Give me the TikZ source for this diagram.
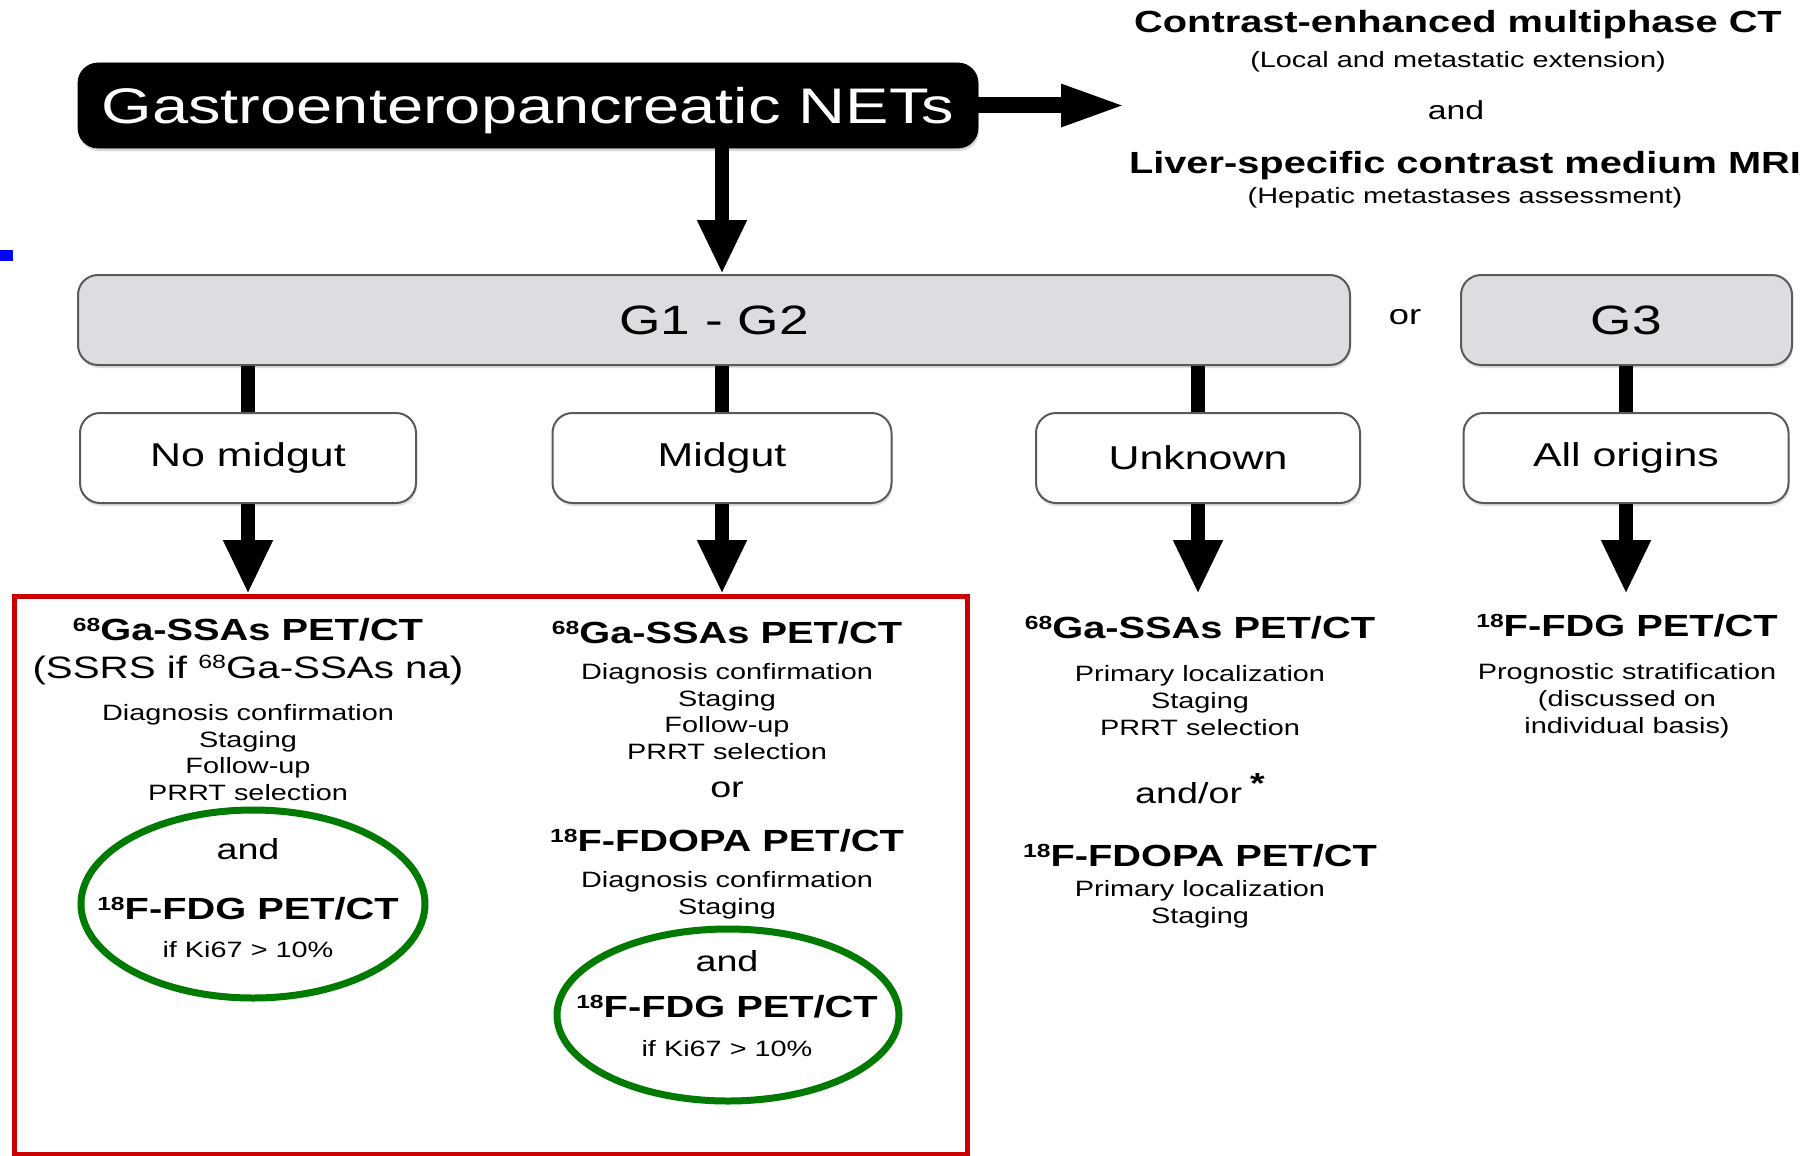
\documentclass[tikz,border=0pt]{standalone}
\usepackage{fontspec}
\setmainfont{Liberation Sans}[FakeStretch=1.3]
\usetikzlibrary{shapes,arrows.meta,shadows}

\definecolor{gradegray}{HTML}{DCDDE0}
\definecolor{boxline}{HTML}{5A5A5A}
\definecolor{framered}{HTML}{CC0000}
\definecolor{ringgreen}{HTML}{007A00}

% isotope mass number, small and flush with the cap height
\newcommand{\iso}[2]{\raisebox{0.3em}{\scalebox{0.62}{#1}}#2}

\tikzstyle{titlebox} = [draw=black, fill=black, text=white, rounded corners=10pt,
    minimum width=450pt, minimum height=42.5pt, text depth=0pt,
    font=\fontsize{25}{30}\selectfont,
    drop shadow={shadow xshift=0.5pt, shadow yshift=-1.5pt, opacity=.3}]
\tikzstyle{grade} = [draw=boxline, line width=1pt, fill=gradegray, rounded corners=10pt,
    minimum height=45pt, font=\fontsize{20.5}{24}\selectfont,
    drop shadow={shadow xshift=0.5pt, shadow yshift=-1.5pt, opacity=.25}]
\tikzstyle{origin} = [draw=boxline, line width=1pt, fill=white, rounded corners=10pt,
    minimum height=45pt, font=\fontsize{16.5}{20}\selectfont,
    drop shadow={shadow xshift=0.5pt, shadow yshift=-1.5pt, opacity=.25}]
\tikzstyle{head} = [font=\bfseries\fontsize{15.3}{18}\selectfont]
\tikzstyle{note} = [align=center, font=\fontsize{11.1}{13.4}\selectfont]
\tikzstyle{conj} = [font=\fontsize{14.5}{17}\selectfont]
\tikzstyle{link} = [line width=7pt]
\tikzstyle{pointer} = [line width=7pt, -{Triangle[length=27pt, width=23pt]}]
\tikzstyle{ring} = [draw=ringgreen, line width=3.5pt]

\begin{document}
\begin{tikzpicture}[x=0.5pt, y=-0.5pt]
\useasboundingbox (0,0) rectangle (1809,1156);

% small mark on the left edge
\fill[blue] (0,250) rectangle (13,261);

% entry box and the imaging for every case
\node[titlebox, name=title] at (528,105.5) {Gastroenteropancreatic NETs};
\node[head, name=ct] at (1458,25) {Contrast-enhanced multiphase CT};
\node[note, name=ctnote] at (1458,62) {(Local and metastatic extension)};
\node[conj, font=\fontsize{13}{16}\selectfont, name=ctand] at (1456,110) {and};
\node[head, name=mri] at (1465,166) {Liver-specific contrast medium MRI};
\node[note, name=mrinote] at (1465,198) {(Hepatic metastases assessment)};

% grading
\node[grade, name=g12, minimum width=636pt] at (714,320) {G1 - G2};
\node[grade, name=g3, minimum width=165.5pt] at (1626.5,320) {G3};
\node[name=or, font=\fontsize{14}{17}\selectfont] at (1405,317) {or};

% site of origin
\node[origin, name=nomid, minimum width=168pt] at (248,458) {No midgut};
\node[origin, name=midgut, minimum width=169.5pt] at (722,458) {Midgut};
\node[origin, name=unknown, minimum width=162pt] at (1198,458) {Unknown};
\node[origin, name=allorig, minimum width=162.5pt] at (1626,458) {All origins};

\coordinate (tip1) at (248,594);
\coordinate (tip2) at (722,594);
\coordinate (tip3) at (1198,594);
\coordinate (tip4) at (1626,594);

\draw[line width=8pt, -{Triangle[length=33pt, width=19pt]}] (title.east) -- (title.east -| ct.west);
\draw[pointer] (title.south -| midgut) -- (g12.north -| midgut);

\draw[link] (g12.south -| nomid) -- (nomid.north);
\draw[link] (g12.south -| midgut) -- (midgut.north);
\draw[link] (g12.south -| unknown) -- (unknown.north);
\draw[link] (g3.south -| allorig) -- (allorig.north);

\draw[pointer] (nomid.south) -- (tip1);
\draw[pointer] (midgut.south) -- (tip2);
\draw[pointer] (unknown.south) -- (tip3);
\draw[pointer] (allorig.south) -- (tip4);

% no midgut
\node[head, name=h1a] at (248,630) {\iso{68}{Ga}-SSAs PET/CT};
\node[name=s1, font=\fontsize{15.5}{18}\selectfont] at (248,670) {(SSRS if \iso{68}{Ga}-SSAs na)};
\node[note, name=l1] at (248,752.5) {Diagnosis confirmation\\Staging\\Follow-up\\PRRT selection};
\node[conj, name=and1] at (248,849) {and};
\node[head, name=f1] at (248,909) {\iso{18}{F}-FDG PET/CT};
\node[note, name=k1] at (248,950) {if Ki67 > 10\%};

% midgut
\node[head, name=h2a] at (727,633) {\iso{68}{Ga}-SSAs PET/CT};
\node[note, name=l2] at (727,711.5) {Diagnosis confirmation\\Staging\\Follow-up\\PRRT selection};
\node[conj, name=or2] at (727,790) {or};
\node[head, name=h2b] at (727,841) {\iso{18}{F}-FDOPA PET/CT};
\node[note, name=l2b] at (727,895) {Diagnosis confirmation\\Staging};
\node[conj, name=and2] at (727,961) {and};
\node[head, name=f2] at (727,1007) {\iso{18}{F}-FDG PET/CT};
\node[note, name=k2] at (727,1049) {if Ki67 > 10\%};

% unknown origin
\node[head, name=h3a] at (1200,628) {\iso{68}{Ga}-SSAs PET/CT};
\node[note, name=l3] at (1200,700.5) {Primary localization\\Staging\\PRRT selection};
\node[conj, name=andor] at (1200,789) {and/or\hspace{4pt}\raisebox{0.35em}{\bfseries *}};
\node[head, name=h3b] at (1200,856) {\iso{18}{F}-FDOPA PET/CT};
\node[note, name=l3b] at (1200,904.5) {Primary localization\\Staging};

% G3
\node[head, name=h4] at (1627,626) {\iso{18}{F}-FDG PET/CT};
\node[note, name=l4] at (1627,700.5) {Prognostic stratification\\(discussed on\\individual basis)};

% highlights
\draw[framered, line width=2.5pt] (14,596) rectangle (967,1154);
\draw[ring] (253,904) ellipse [x radius=172, y radius=94];
\draw[ring] (728,1015) ellipse [x radius=171, y radius=86];

\end{tikzpicture}
\end{document}
